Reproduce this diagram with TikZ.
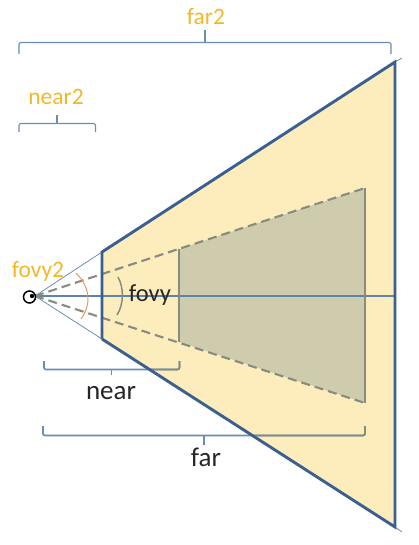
\documentclass[tikz,border=0pt]{standalone}
\usepackage{fontspec}
\setmainfont{Carlito}
\definecolor{frust}{RGB}{253,236,188}
\definecolor{inner}{RGB}{206,204,172}
\definecolor{edge}{RGB}{60,95,145}
\definecolor{thinb}{RGB}{95,130,175}
\definecolor{brace}{RGB}{105,140,185}
\definecolor{olive}{RGB}{135,140,115}
\definecolor{dashgray}{RGB}{135,140,128}
\definecolor{gold}{RGB}{243,183,40}
\definecolor{orng}{RGB}{235,150,100}
\tikzset{
  heavy/.style={draw=edge,line width=2.9pt},
  thinray/.style={draw=thinb,line width=0.7pt},
  dashray/.style={draw=dashgray,line width=2.1pt,dash pattern=on 9pt off 5pt},
  bracket/.style={line width=1.7pt,rounded corners=2pt},
  thinbracket/.style={draw=brace,line width=1.1pt,rounded corners=2pt},
  goldlabel/.style={text=gold,font=\fontsize{23.5}{23.5}\selectfont,inner sep=0pt},
  blacklabel/.style={text=black!85,font=\fontsize{27}{27}\selectfont,inner sep=0pt},
}
\begin{document}
\begin{tikzpicture}[x=1pt,y=-1pt]
\useasboundingbox (0,0) rectangle (418,545);
\coordinate (apex) at (35,296);
\coordinate (nt) at (102,252);
\coordinate (nb) at (102,339);
\coordinate (ft) at (395,62);
\coordinate (fb) at (395,527);
\coordinate (ftx) at (402,58);
\coordinate (fbx) at (402,532);
\coordinate (int) at (179,249);
\coordinate (inb) at (179,342);
\coordinate (ift) at (365,188);
\coordinate (ifb) at (365,403);
\coordinate (axis) at (395,296);
% fills
\fill[frust] (nt) -- (ft) -- (fb) -- (nb) -- cycle;
\fill[inner] (int) -- (ift) -- (ifb) -- (inb) -- cycle;
% rays
\draw[thinray] (apex) -- (nt);
\draw[thinray] (apex) -- (nb);
\draw[thinray] (ft) -- (ftx);
\draw[thinray] (fb) -- (fbx);
\draw[draw=thinb,line width=1.5pt] (apex) -- (axis);
\draw[dashray] (apex) -- (ift);
\draw[dashray] (apex) -- (ifb);
\draw[draw=dashgray,line width=2pt] (int) -- (inb);
\draw[draw=dashgray,line width=2pt] (ift) -- (ifb);
% lower brackets, blue on white and olive where they cross the fill
\coordinate (ne1) at (44,361); \coordinate (ne2) at (44,369.5); \coordinate (ne3) at (179.5,369.5); \coordinate (ne4) at (179.5,361);
\coordinate (nem) at (111.5,369.5); \coordinate (neb) at (111.5,375);
\coordinate (f1) at (43,426); \coordinate (f2) at (43,435.5); \coordinate (f3) at (365,435.5); \coordinate (f4) at (365,426);
\coordinate (fm) at (204,435.5); \coordinate (fe) at (204,445);
\draw[bracket,draw=brace] (ne1) -- (ne2) -- (ne3) -- (ne4);
\draw[bracket,draw=brace] (nem) -- (neb);
\draw[bracket,draw=brace] (f1) -- (f2) -- (f3) -- (f4);
\draw[bracket,draw=brace] (fm) -- (fe);
\begin{scope}
\clip (nt) -- (ft) -- (fb) -- (nb) -- cycle;
\draw[bracket,draw=olive] (ne1) -- (ne2) -- (ne3) -- (ne4);
\draw[bracket,draw=olive] (f1) -- (f2) -- (f3) -- (f4);
\end{scope}
% frustum
\draw[heavy,line join=miter] (nb) -- (nt) -- (ft) -- (fb) -- (nb);
% eye
\node[draw=black,line width=1.5pt,circle,minimum size=12pt,inner sep=0pt] (eye) at (29.5,297) {};
\fill[black] (32,296) circle (2.2pt);
% arcs
\coordinate (oa) at (76,273); \coordinate (ob) at (81,319);
\coordinate (ga) at (118,277); \coordinate (gb) at (117,315);
\draw[orng,line width=1pt] (oa) .. controls (91,288) and (91,305) .. (ob);
\draw[dashgray,line width=1.5pt] (ga) .. controls (124,288) and (124,304) .. (gb);
% upper brackets
\coordinate (fa1) at (19,54); \coordinate (fa2) at (19,42.5); \coordinate (fa3) at (391,42.5); \coordinate (fa4) at (391,54);
\coordinate (fam) at (205,42.5); \coordinate (fat) at (205,30);
\draw[thinbracket] (fa1) -- (fa2) -- (fa3) -- (fa4);
\draw[thinbracket] (fam) -- (fat);
\coordinate (na1) at (19,132); \coordinate (na2) at (19,123.5); \coordinate (na3) at (95.5,123.5); \coordinate (na4) at (95.5,132);
\coordinate (nam) at (57,123.5); \coordinate (nat) at (57,115);
\draw[thinbracket] (na1) -- (na2) -- (na3) -- (na4);
\draw[thinbracket] (nam) -- (nat);
% labels
\node[goldlabel] (lfar2) at (206,17) {far2};
\node[goldlabel] (lnear2) at (56,97) {near2};
\node[goldlabel] (lfovy2) at (38,271) {fovy2};
\node[blacklabel,font=\fontsize{24.5}{24.5}\selectfont] (lfovy) at (150,295) {fovy};
\node[blacklabel] (lnear) at (111,393) {near};
\node[blacklabel] (lfar) at (206,457) {far};
\end{tikzpicture}
\end{document}
